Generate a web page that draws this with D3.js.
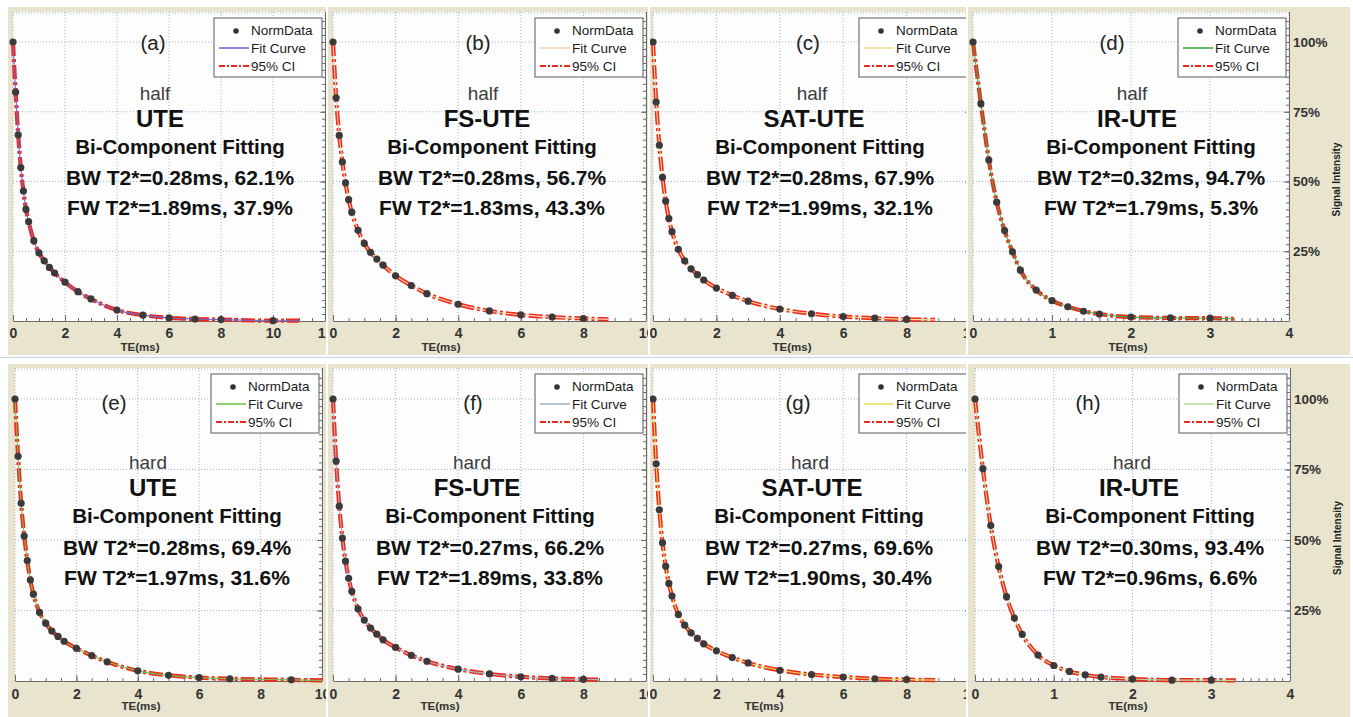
<!DOCTYPE html>
<html>
<head>
<meta charset="utf-8">
<script src="https://cdn.jsdelivr.net/npm/d3@7"></script>
<style>
  body { margin: 0; background: #fff; }
  svg { display: block; font-family: "Liberation Sans", Arial, sans-serif; }
</style>
</head>
<body>
<div id="chart"></div>
<script>
// ---- data ----
let panelLabels = ["(a)", "(b)", "(c)", "(d)", "(e)", "(f)", "(g)", "(h)"];
let pulses = ["half", "half", "half", "half", "hard", "hard", "hard", "hard"];
let sequences = ["UTE", "FS-UTE", "SAT-UTE", "IR-UTE", "UTE", "FS-UTE", "SAT-UTE", "IR-UTE"];
let bwT2 = ["0.28", "0.28", "0.28", "0.32", "0.28", "0.27", "0.27", "0.30"];
let bwPct = ["62.1", "56.7", "67.9", "94.7", "69.4", "66.2", "69.6", "93.4"];
let fwT2 = ["1.89", "1.83", "1.99", "1.79", "1.97", "1.89", "1.90", "0.96"];
let fwPct = ["37.9", "43.3", "32.1", "5.3", "31.6", "33.8", "30.4", "6.6"];

let xMax = [12, 10, 10, 4, 10, 10, 10, 4];
let xStep = [2, 2, 2, 1, 2, 2, 2, 1];
let xMinor = [0.5, 0.5, 0.5, 0.1, 0.5, 0.5, 0.5, 0.1];
let yTicks = [0.25, 0.5, 0.75, 1];
let yTickLabels = ["25%", "50%", "75%", "100%"];

let teA = [0, 0.1, 0.2, 0.3, 0.4, 0.5, 0.6, 0.8, 1, 1.2, 1.4, 1.6, 2, 2.5, 3, 4, 5, 6, 7, 8, 10];
let teMid = [0, 0.1, 0.2, 0.3, 0.4, 0.5, 0.6, 0.8, 1, 1.2, 1.4, 1.6, 2, 2.5, 3, 4, 5, 6, 7, 8];
let teE = [0, 0.1, 0.2, 0.3, 0.4, 0.5, 0.6, 0.8, 1, 1.2, 1.4, 1.6, 2, 2.5, 3, 4, 5, 6, 7, 9];
let teIR = [0, 0.1, 0.2, 0.3, 0.4, 0.5, 0.6, 0.8, 1, 1.2, 1.4, 1.6, 2, 2.5, 3];
let teSets = [teA, teMid, teMid, teIR, teE, teMid, teMid, teIR];

let sigA = [1, 0.82, 0.667, 0.55, 0.466, 0.40, 0.356, 0.288, 0.244, 0.216, 0.192, 0.172, 0.139, 0.105, 0.079, 0.039, 0.021, 0.011, 0.007, 0.005, 0.001];
let sigB = [1, 0.80, 0.665, 0.57, 0.495, 0.435, 0.39, 0.325, 0.278, 0.246, 0.222, 0.20, 0.162, 0.127, 0.098, 0.06, 0.036, 0.022, 0.014, 0.009];
let sigC = [1, 0.785, 0.63, 0.515, 0.43, 0.367, 0.32, 0.257, 0.216, 0.187, 0.166, 0.147, 0.118, 0.092, 0.071, 0.043, 0.026, 0.016, 0.010, 0.006];
let sigD = [1, 0.779, 0.577, 0.426, 0.324, 0.248, 0.182, 0.111, 0.073, 0.051, 0.035, 0.025, 0.014, 0.011, 0.010];
let sigE = [1, 0.797, 0.63, 0.514, 0.427, 0.358, 0.308, 0.243, 0.205, 0.177, 0.158, 0.141, 0.116, 0.09, 0.068, 0.036, 0.02, 0.012, 0.008, 0.004];
let sigF = [1, 0.78, 0.62, 0.507, 0.425, 0.364, 0.318, 0.256, 0.216, 0.188, 0.166, 0.146, 0.119, 0.091, 0.07, 0.042, 0.025, 0.015, 0.009, 0.006];
let sigG = [1, 0.77, 0.607, 0.49, 0.407, 0.346, 0.301, 0.236, 0.198, 0.171, 0.151, 0.132, 0.107, 0.083, 0.064, 0.038, 0.023, 0.014, 0.008, 0.005];
let sigH = [1, 0.753, 0.551, 0.406, 0.299, 0.223, 0.165, 0.092, 0.055, 0.034, 0.022, 0.014, 0.007, 0.003, 0.003];
let sigSets = [sigA, sigB, sigC, sigD, sigE, sigF, sigG, sigH];

// where the fitted curve stops (TE, value)
let fitEndTE = [11, 8.8, 8.9, 3.3, 10, 8.5, 8.9, 3.3];
let fitEndVal = [0.001, 0.006, 0.004, 0.008, 0.002, 0.005, 0.003, 0.002];

// ---- layout / style ----
let fitColors = ['#6b6bd6', '#efd3ac', '#eedd98', '#3fae46', '#76c255', '#a7b5c6', '#e4de5e', '#bcdc9c'];

let rows = [
  {fy0: 7, fy1: 355, py0: 12, yOne: 42, yZero: 321, pad: 7, base: [50, 100, 127, 154, 185, 215], axisLab: 351},
  {fy0: 364, fy1: 717, py0: 368, yOne: 399, yZero: 681, pad: 8, base: [410, 469, 496, 523, 555, 585], axisLab: 710}
];
let cols = [
  {fx0: 8, fx1: 326, px0: 13, px1: 325},
  {fx0: 328, fx1: 648, px0: 333, px1: 646},
  {fx0: 650, fx1: 966, px0: 653, px1: 970},
  {fx0: 968, fx1: 1350, px0: 973, px1: 1289}
];
let colsRow2 = [
  {fx0: 8, fx1: 326, px0: 15, px1: 322},
  {fx0: 328, fx1: 648, px0: 333, px1: 646},
  {fx0: 650, fx1: 966, px0: 653, px1: 970},
  {fx0: 968, fx1: 1350, px0: 975, px1: 1290}
];
// text centres: label, pulse, sequence, body
let textX = [
  [153, 155, 160, 180], [478, 483, 487, 492], [808, 812, 814, 820], [1112, 1132, 1137, 1151],
  [114, 148, 153, 177], [473, 472, 477, 490], [798, 810, 812, 819], [1088, 1132, 1139, 1150]
];
let teLabelX = [140, 441, 792, 1128, 141, 440, 764, 1128];

let svg = d3.select('#chart').append('svg')
    .attr('width', 1353)
    .attr('height', 717);

svg.append('rect').attr('width', 1353).attr('height', 717).attr('fill', '#fff');
svg.append('line')
    .attr('x1', 0).attr('x2', 1353).attr('y1', 357.5).attr('y2', 357.5)
    .attr('stroke', '#c4d6e6');

let defs = svg.append('defs');

for (let i = 0; i < 8; i++) {
    drawPanel(i);
}

function drawPanel(i) {
    let row = rows[Math.floor(i / 4)];
    let col = (i < 4 ? cols : colsRow2)[i % 4];

    defs.append('clipPath').attr('id', 'clip' + i)
        .append('rect')
        .attr('x', col.fx0).attr('y', row.fy0)
        .attr('width', col.fx1 - col.fx0).attr('height', row.fy1 - row.fy0);

    let g = svg.append('g').attr('clip-path', 'url(#clip' + i + ')');

    // frame + plot area
    g.append('rect')
        .attr('x', col.fx0).attr('y', row.fy0)
        .attr('width', col.fx1 - col.fx0).attr('height', row.fy1 - row.fy0)
        .attr('fill', '#e8e4cd');
    g.append('rect')
        .attr('x', col.px0).attr('y', row.py0)
        .attr('width', col.px1 - col.px0).attr('height', row.yZero - row.py0)
        .attr('fill', '#fdfdfd');

    let x = d3.scaleLinear().domain([0, xMax[i]]).range([col.px0, col.px1]);
    let y = d3.scaleLinear().domain([0, 1]).range([row.yZero, row.yOne]);

    let major = d3.range(0, xMax[i] + 1e-9, xStep[i]);
    let minor = d3.range(0, xMax[i] + 1e-9, xMinor[i]);

    // dotted grid
    g.append('g').selectAll('line')
        .data(major)
        .join('line')
        .attr('x1', d => x(d)).attr('x2', d => x(d))
        .attr('y1', row.py0).attr('y2', row.yZero)
        .attr('stroke', '#98b6d6')
        .attr('stroke-dasharray', '1,2');
    g.append('g').selectAll('line')
        .data(yTicks.concat([y.invert(row.py0 + 1)]))
        .join('line')
        .attr('x1', col.px0).attr('x2', col.px1)
        .attr('y1', d => y(d)).attr('y2', d => y(d))
        .attr('stroke', '#98b6d6')
        .attr('stroke-dasharray', '1,2');

    // bottom axis, ticks pointing inward
    let axB = g.append('g')
        .attr('transform', 'translate(0,' + row.yZero + ')')
        .call(d3.axisBottom(x).tickValues(major).tickSizeInner(-6).tickSizeOuter(0)
            .tickPadding(row.pad).tickFormat(d3.format('d')));
    g.append('g')
        .attr('transform', 'translate(0,' + row.yZero + ')')
        .call(d3.axisBottom(x).tickValues(minor).tickSizeInner(-3).tickSizeOuter(0).tickFormat(''))
        .call(a => a.select('.domain').remove());
    axB.selectAll('text')
        .attr('font-size', 14).attr('font-weight', 'bold').attr('fill', '#333')
        .attr('font-family', '"Liberation Sans", Arial, sans-serif');

    // right axis
    let axR = g.append('g')
        .attr('transform', 'translate(' + col.px1 + ',0)')
        .call(d3.axisRight(y).tickValues(yTicks).tickSizeInner(-5).tickSizeOuter(0)
            .tickPadding(4).tickFormat((d, k) => yTickLabels[k]));
    g.append('g')
        .attr('transform', 'translate(' + col.px1 + ',0)')
        .call(d3.axisRight(y).tickValues(d3.range(0, 1.1, 0.025)).tickSizeInner(-3).tickSizeOuter(0).tickFormat(''))
        .call(a => a.select('.domain').remove());
    axR.select('.domain').attr('d', 'M0.5,' + row.py0 + 'V' + row.yZero);
    axR.selectAll('text')
        .attr('font-size', 13.5).attr('font-weight', 'bold').attr('fill', '#333')
        .attr('font-family', '"Liberation Sans", Arial, sans-serif');
    g.selectAll('.domain, .tick line').attr('stroke', '#6a6a6a');

    g.append('text')
        .attr('transform', 'translate(' + (col.px1 + 51) + ',' + ((row.yZero + row.yOne) / 2 - 2) + ') rotate(-90)')
        .attr('text-anchor', 'middle')
        .attr('font-size', 10).attr('font-weight', 'bold').attr('fill', '#222')
        .text('Signal Intensity');

    g.append('text')
        .attr('x', teLabelX[i]).attr('y', row.axisLab)
        .attr('text-anchor', 'middle')
        .attr('font-size', 11.5).attr('font-weight', 'bold').attr('fill', '#333')
        .text('TE(ms)');

    // curves: 95% CI band drawn thick, fit curve thin on top
    let pts = teSets[i].map((t, j) => [t, sigSets[i][j]]).concat([[fitEndTE[i], fitEndVal[i]]]);
    let line = d3.line()
        .x(d => x(d[0]))
        .y(d => y(d[1]))
        .curve(d3.curveMonotoneX);

    g.append('path')
        .attr('d', line(pts))
        .attr('fill', 'none')
        .attr('stroke', '#ef2a1d')
        .attr('stroke-width', 4.2)
        .attr('stroke-dasharray', '14,3,3,3');
    g.append('path')
        .attr('d', line(pts))
        .attr('fill', 'none')
        .attr('stroke', fitColors[i])
        .attr('stroke-width', 1.1);

    g.append('g').selectAll('circle')
        .data(pts.slice(0, -1))
        .join('circle')
        .attr('cx', d => x(d[0]))
        .attr('cy', d => y(d[1]))
        .attr('r', 3.6)
        .attr('fill', '#3a3a3a');

    // legend
    let lw = 108, lh = 59;
    let lx = col.px1 - 3 - lw, ly = row.py0 + 6;
    let lg = g.append('g').attr('transform', 'translate(' + lx + ',' + ly + ')');
    lg.append('rect').attr('width', lw).attr('height', lh)
        .attr('fill', '#fff').attr('stroke', '#5a5a5a');
    lg.append('circle').attr('cx', 22).attr('cy', 13).attr('r', 2.8).attr('fill', '#333');
    lg.append('line').attr('x1', 5).attr('x2', 35).attr('y1', 30).attr('y2', 30)
        .attr('stroke', fitColors[i]).attr('stroke-width', 1.6);
    lg.append('line').attr('x1', 5).attr('x2', 35).attr('y1', 48).attr('y2', 48)
        .attr('stroke', '#ef2a1d').attr('stroke-width', 2).attr('stroke-dasharray', '6,2,2,2');
    lg.selectAll('text')
        .data(['NormData', 'Fit Curve', '95% CI'])
        .join('text')
        .attr('x', 37)
        .attr('y', (d, k) => [17, 35, 53][k])
        .attr('font-size', 13.5)
        .attr('fill', '#1a1a1a')
        .text(d => d);

    // annotation block
    let tx = textX[i];
    let b = row.base;
    let notes = [
        {t: panelLabels[i], x: tx[0], y: b[0], s: 20.5, w: 'normal', c: '#222'},
        {t: pulses[i], x: tx[1], y: b[1], s: 19, w: 'normal', c: '#3c3c3c'},
        {t: sequences[i], x: tx[2], y: b[2], s: 24, w: 'bold', c: '#111'},
        {t: 'Bi-Component Fitting', x: tx[3], y: b[3], s: 20.5, w: 'bold', c: '#111'},
        {t: 'BW T2*=' + bwT2[i] + 'ms, ' + bwPct[i] + '%', x: tx[3], y: b[4], s: 21, w: 'bold', c: '#111'},
        {t: 'FW T2*=' + fwT2[i] + 'ms, ' + fwPct[i] + '%', x: tx[3], y: b[5], s: 21, w: 'bold', c: '#111'}
    ];
    g.append('g').selectAll('text')
        .data(notes)
        .join('text')
        .attr('x', d => d.x).attr('y', d => d.y)
        .attr('text-anchor', 'middle')
        .attr('font-size', d => d.s)
        .attr('font-weight', d => d.w)
        .attr('fill', d => d.c)
        .text(d => d.t);
}
</script>
</body>
</html>
